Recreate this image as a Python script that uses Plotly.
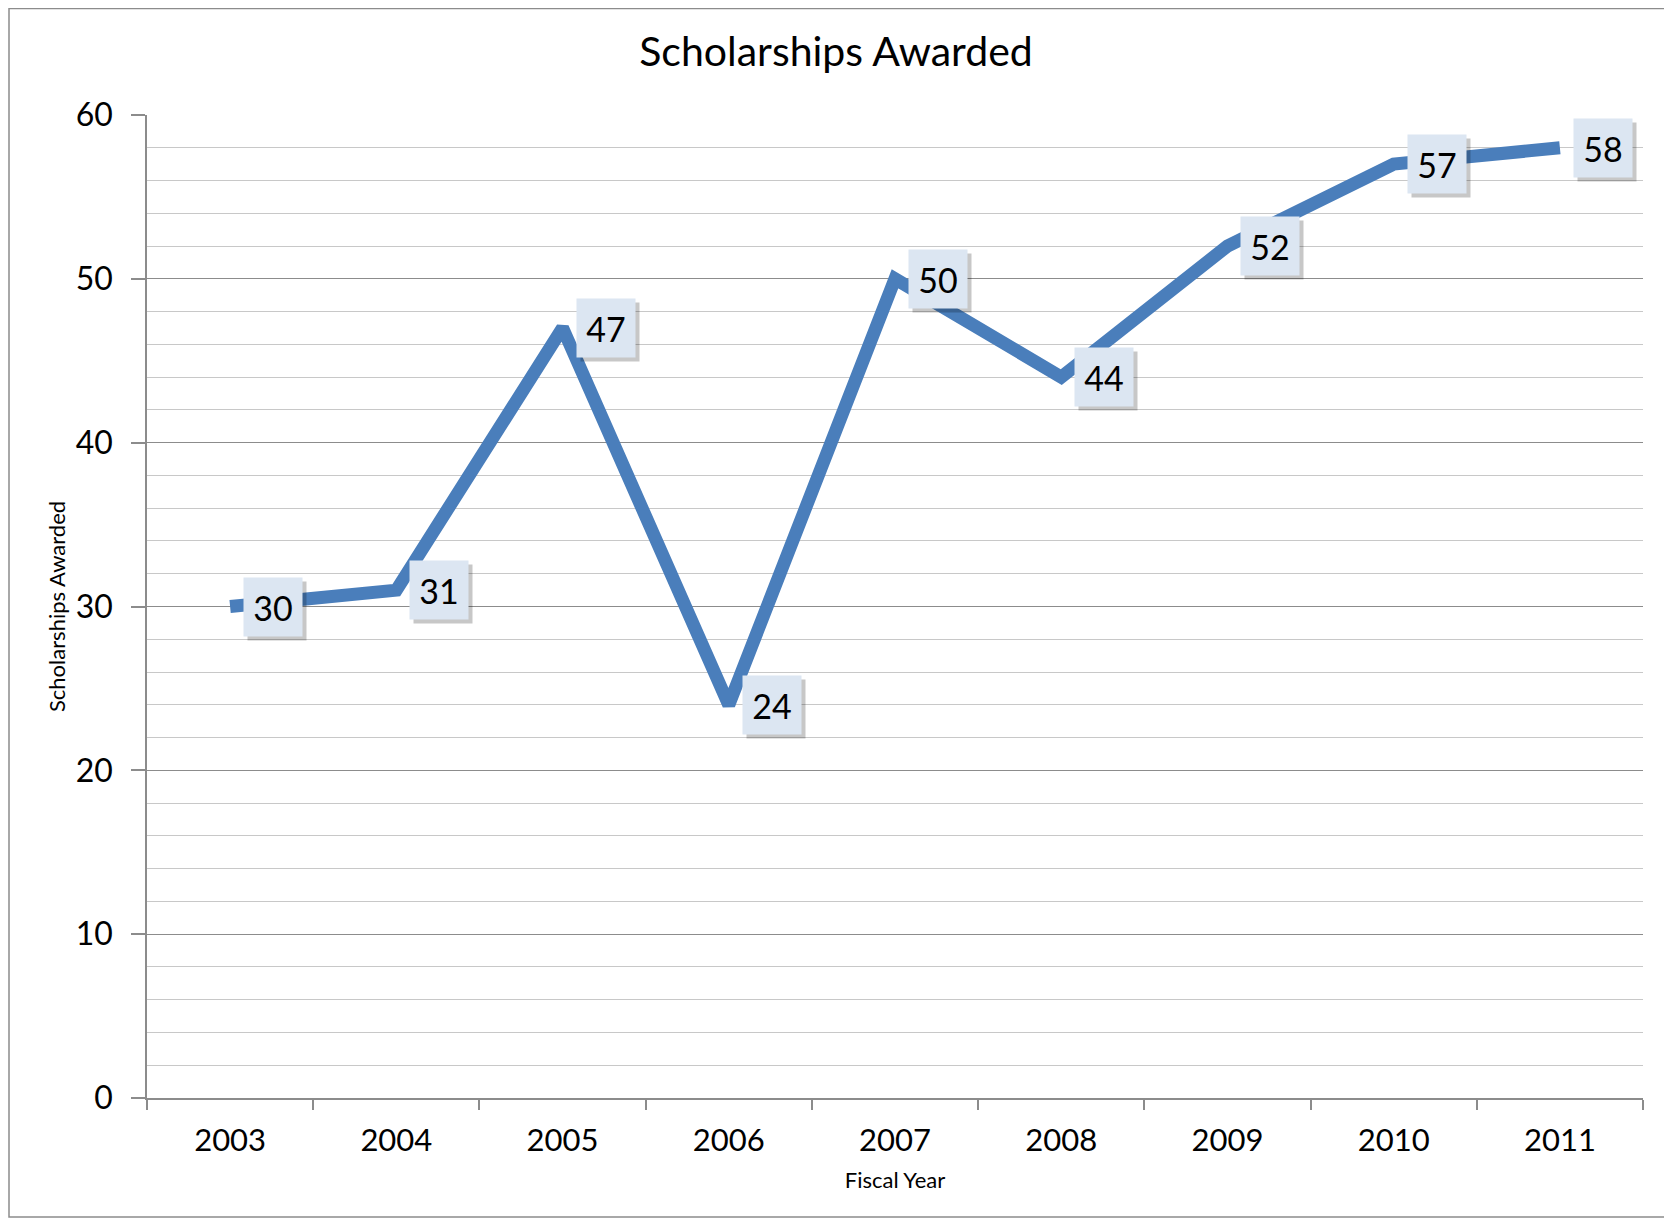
import plotly.graph_objects as go

years = ["2003", "2004", "2005", "2006", "2007", "2008", "2009", "2010", "2011"]
awarded = [30, 31, 47, 24, 50, 44, 52, 57, 58]

W, H = 1660, 1210
L, R, T, B = 139, 25, 107, 120
FONT = "Lato"

fig = go.Figure()
fig.add_trace(go.Scatter(
    x=years, y=awarded, mode="lines",
    line=dict(color="#4a7ebb", width=13),
    hoverinfo="skip", showlegend=False,
))

BOXW, BOXH = 44, 44
annotations = []
for i, v in enumerate(awarded):
    annotations.append(dict(
        x=i, y=v, xref="x", yref="y", text="&nbsp;", showarrow=False,
        xanchor="left", yanchor="middle", xshift=17, yshift=-4,
        width=BOXW, height=BOXH,
        font=dict(family=FONT, size=34, color="rgba(0,0,0,0)"),
        bgcolor="rgba(0,0,0,0.22)", borderpad=7,
    ))
    annotations.append(dict(
        x=i, y=v, xref="x", yref="y", text=str(v), showarrow=False,
        xanchor="left", yanchor="middle", xshift=13,
        width=BOXW, height=BOXH,
        font=dict(family=FONT, size=34, color="#000000"),
        bgcolor="#dce6f2", borderpad=7,
    ))

pw = W - L - R
ph = H - T - B
fig.update_layout(
    width=W, height=H,
    margin=dict(l=L, r=R, t=T, b=B, autoexpand=False),
    paper_bgcolor="white", plot_bgcolor="white",
    title=dict(text="Scholarships Awarded", x=828 / W, xanchor="center",
               y=1 - 44 / H, yanchor="middle",
               font=dict(family=FONT, size=41, color="#000000")),
    font=dict(family=FONT, color="#000000"),
    annotations=annotations,
    shapes=[dict(type="rect", xref="paper", yref="paper",
                 x0=(1 - L) / pw, x1=(W - 1 - L) / pw,
                 y0=-(H - 1 - (H - B)) / ph, y1=1 + (T - 0.5) / ph,
                 line=dict(color="#8c8c8c", width=1.5), layer="below")],
)

fig.update_xaxes(
    type="category", range=[-0.5, 8.5],
    showline=True, linecolor="#8c8c8c", linewidth=1.5,
    ticks="outside", tickson="boundaries", ticklen=10, tickcolor="#8c8c8c", tickwidth=1.5,
    showgrid=False, ticklabelstandoff=14,
    tickfont=dict(family=FONT, size=31, color="#000000"),
    title=dict(text="Fiscal Year", font=dict(family=FONT, size=22, color="#000000"), standoff=16),
)
fig.update_yaxes(
    range=[0, 60], dtick=10, tick0=0,
    showline=True, linecolor="#8c8c8c", linewidth=1.5,
    ticks="outside", ticklen=14, tickcolor="#8c8c8c", tickwidth=1.5,
    showgrid=True, gridcolor="#8c8c8c", gridwidth=1.3,
    minor=dict(dtick=2, showgrid=True, gridcolor="#c8c8c8", gridwidth=1.2, ticks=""),
    zeroline=False, ticklabelstandoff=12,
    tickfont=dict(family=FONT, size=32, color="#000000"),
    title=dict(text="Scholarships Awarded", font=dict(family=FONT, size=22, color="#000000"), standoff=4),
)

fig.write_html("out.html")
